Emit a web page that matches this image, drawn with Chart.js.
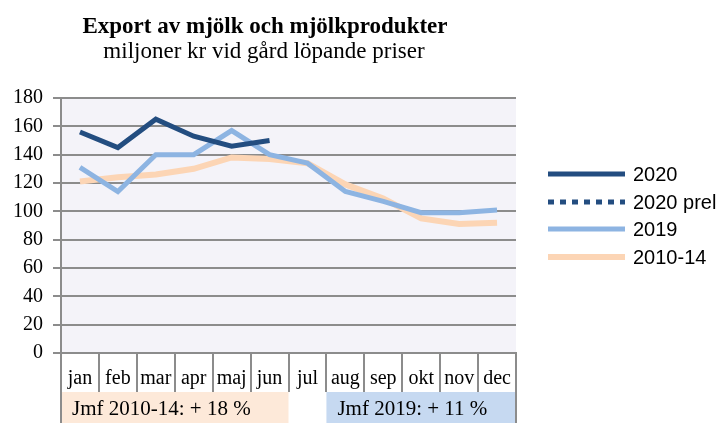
<!DOCTYPE html>
<html>
<head>
<meta charset="utf-8">
<script src="https://cdn.jsdelivr.net/npm/chart.js@4/dist/chart.umd.min.js"></script>
<style>
html,body{margin:0;padding:0;background:#fff;}
#wrap{position:relative;width:726px;height:423px;}
</style>
</head>
<body>
<div id="wrap"><canvas id="c" width="726" height="423"></canvas></div>
<script>
const titleText = "Export av mjölk och mjölkprodukter";
const subtitleText = "miljoner kr vid gård löpande priser";
const months = ["jan","feb","mar","apr","maj","jun","jul","aug","sep","okt","nov","dec"];
const series2020 = [156,145,165,153,146,150,null,null,null,null,null,null];
const series2020prel = [null,null,null,null,null,null,null,null,null,null,null,null];
const series2019 = [131,114,140,140,157,140,134,114,107,99,99,101];
const series2010_14 = [121,124,126,130,138,137,134,119,109,95,91,92];
const yTicks = [0,20,40,60,80,100,120,140,160,180];
const noteLeft = "Jmf 2010-14: + 18 %";
const noteRight = "Jmf 2019: + 11 %";

const GRID = "#8c8c8c";
const SERIF = "'Liberation Serif', 'Times New Roman', serif";

const decorPlugin = {
  id: 'decor',
  beforeDraw(chart) {
    const {ctx, chartArea: a} = chart;
    ctx.save();
    ctx.fillStyle = "#F4F3F9";
    ctx.fillRect(a.left, a.top, a.right - a.left, a.bottom - a.top);
    ctx.restore();
  },
  afterDraw(chart) {
    const {ctx, chartArea: a} = chart;
    const xs = chart.scales.x;
    ctx.save();
    // title
    ctx.fillStyle = "#000";
    ctx.textAlign = "center";
    ctx.textBaseline = "alphabetic";
    ctx.font = "bold 23px " + SERIF;
    ctx.fillText(titleText, 265, 33);
    ctx.font = "23px " + SERIF;
    ctx.fillText(subtitleText, 264, 58);

    // note boxes
    const half = (xs.getPixelForValue(1) - xs.getPixelForValue(0)) / 2;
    const boxTop = a.bottom + 39;
    const lx0 = a.left, lx1 = xs.getPixelForValue(5) + half;
    const rx0 = xs.getPixelForValue(7) - half, rx1 = a.right;
    ctx.fillStyle = "#FDE9D9";
    ctx.fillRect(lx0, boxTop, lx1 - lx0, 423 - boxTop);
    ctx.fillStyle = "#C6D9F1";
    ctx.fillRect(rx0, boxTop, rx1 - rx0, 423 - boxTop);
    ctx.strokeStyle = GRID;
    ctx.lineWidth = 2;
    ctx.beginPath();
    ctx.moveTo(a.left, a.bottom); ctx.lineTo(a.left, 423);
    ctx.moveTo(a.right, a.bottom); ctx.lineTo(a.right, 423);
    ctx.stroke();
    ctx.fillStyle = "#000";
    ctx.textAlign = "left";
    ctx.font = "21px " + SERIF;
    ctx.fillText(noteLeft, lx0 + 11, 415);
    ctx.fillText(noteRight, rx0 + 11, 415);

    // legend
    const ys = [174, 202, 229, 257];
    ctx.font = "20px 'Liberation Sans', Arial, sans-serif";
    ctx.textBaseline = "middle";
    chart.data.datasets.forEach((ds, i) => {
      ctx.strokeStyle = ds.borderColor;
      ctx.lineWidth = ds.borderWidth;
      ctx.setLineDash(ds.borderDash || []);
      ctx.lineCap = "butt";
      ctx.beginPath();
      ctx.moveTo(548, ys[i]);
      ctx.lineTo(625, ys[i]);
      ctx.stroke();
      ctx.setLineDash([]);
      ctx.fillStyle = "#000";
      ctx.fillText(ds.label, 633, ys[i] + 1);
    });
    ctx.restore();
  }
};

new Chart(document.getElementById('c'), {
  type: 'line',
  data: {
    labels: months,
    datasets: [
      {label: "2020", data: series2020, borderColor: "#234D80", borderWidth: 5, pointRadius: 0, spanGaps: false, tension: 0},
      {label: "2020 prel", data: series2020prel, borderColor: "#234D80", borderWidth: 5, borderDash: [6,6], pointRadius: 0, tension: 0},
      {label: "2019", data: series2019, borderColor: "#8DB4E2", borderWidth: 5, pointRadius: 0, tension: 0},
      {label: "2010-14", data: series2010_14, borderColor: "#FCD5B5", borderWidth: 6, pointRadius: 0, tension: 0}
    ]
  },
  options: {
    responsive: false,
    animation: false,
    devicePixelRatio: 1,
    layout: {padding: {top: 98, right: 210, bottom: 0, left: 0}},
    plugins: {legend: {display: false}, title: {display: false}, tooltip: {enabled: false}},
    elements: {line: {borderCapStyle: 'butt', borderJoinStyle: 'miter'}},
    scales: {
      y: {
        min: 0, max: 180,
        afterFit(s) { s.width = 61; },
        afterBuildTicks(s) { s.ticks = yTicks.map(v => ({value: v})); },
        ticks: {color: "#000", font: {family: SERIF, size: 20}, padding: 10},
        grid: {color: GRID, lineWidth: 2, tickLength: 8},
        border: {display: true, color: GRID, width: 2}
      },
      x: {
        offset: true,
        afterFit(s) { s.height = 70; },
        ticks: {color: "#000", font: {family: SERIF, size: 20}, padding: -25, maxRotation: 0, autoSkip: false},
        grid: {offset: true, drawOnChartArea: false, color: GRID, lineWidth: 2, tickLength: 39},
        border: {display: true, color: GRID, width: 2}
      }
    }
  },
  plugins: [decorPlugin]
});
</script>
</body>
</html>
